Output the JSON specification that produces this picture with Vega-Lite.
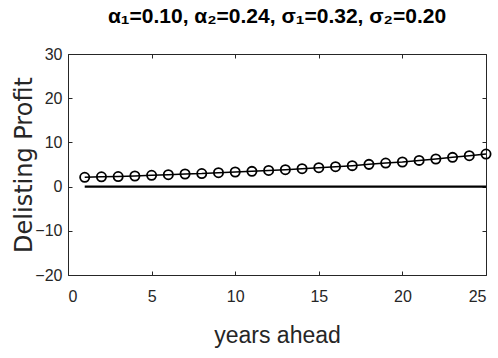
{
  "$schema": "https://vega.github.io/schema/vega-lite/v6.json",
  "width": 418,
  "height": 221,
  "autosize": {"type": "none"},
  "padding": {"left": 68, "top": 54, "right": 12, "bottom": 83},
  "background": "white",
  "title": {
    "text": "α₁=0.10, α₂=0.24, σ₁=0.32, σ₂=0.20",
    "anchor": "middle",
    "font": "Liberation Sans",
    "fontSize": 21,
    "fontWeight": "bold",
    "color": "black",
    "offset": 19
  },
  "config": {
    "view": {"stroke": "#262626", "strokeWidth": 1},
    "axis": {
      "grid": false,
      "domain": false,
      "offset": -4,
      "tickColor": "#262626",
      "tickSize": 4,
      "tickWidth": 1,
      "labelFont": "Liberation Sans",
      "labelFontSize": 16,
      "labelColor": "#262626",
      "titleFont": "Liberation Sans",
      "titleFontWeight": "normal",
      "titleColor": "#262626"
    }
  },
  "datasets": {
    "profit": [
      {"year": 1, "profit": 2.10},
      {"year": 2, "profit": 2.22},
      {"year": 3, "profit": 2.28},
      {"year": 4, "profit": 2.40},
      {"year": 5, "profit": 2.55},
      {"year": 6, "profit": 2.70},
      {"year": 7, "profit": 2.85},
      {"year": 8, "profit": 2.95},
      {"year": 9, "profit": 3.15},
      {"year": 10, "profit": 3.30},
      {"year": 11, "profit": 3.45},
      {"year": 12, "profit": 3.66},
      {"year": 13, "profit": 3.83},
      {"year": 14, "profit": 4.05},
      {"year": 15, "profit": 4.28},
      {"year": 16, "profit": 4.51},
      {"year": 17, "profit": 4.74},
      {"year": 18, "profit": 5.03},
      {"year": 19, "profit": 5.33},
      {"year": 20, "profit": 5.57},
      {"year": 21, "profit": 5.93},
      {"year": 22, "profit": 6.24},
      {"year": 23, "profit": 6.62},
      {"year": 24, "profit": 6.99},
      {"year": 25, "profit": 7.37}
    ],
    "zero": [
      {"year": 1, "profit": 0},
      {"year": 25, "profit": 0}
    ]
  },
  "resolve": {"axis": {"x": "independent", "y": "independent"}},
  "layer": [
    {
      "data": {"name": "zero"},
      "mark": {"type": "line", "color": "black", "strokeWidth": 2.2},
      "encoding": {
        "x": {
          "field": "year", "type": "quantitative",
          "scale": {"domain": [0, 25], "nice": false},
          "axis": {"orient": "bottom", "values": [0, 5, 10, 15, 20, 25], "title": "years ahead", "titleFontSize": 23, "titlePadding": 20, "labelPadding": 13}
        },
        "y": {
          "field": "profit", "type": "quantitative",
          "scale": {"domain": [-20, 30], "nice": false},
          "axis": {"orient": "left", "values": [-20, -10, 0, 10, 20, 30], "title": "Delisting Profit", "titleFont": "DejaVu Sans", "titleFontSize": 24, "titlePadding": -2, "labelPadding": 6}
        }
      }
    },
    {
      "data": {"name": "profit"},
      "mark": {"type": "line", "color": "black", "strokeWidth": 1.5},
      "encoding": {
        "x": {"field": "year", "type": "quantitative", "axis": {"orient": "top", "values": [0, 5, 10, 15, 20, 25], "labels": false, "title": null}},
        "y": {"field": "profit", "type": "quantitative", "axis": {"orient": "right", "values": [-20, -10, 0, 10, 20, 30], "labels": false, "title": null}}
      }
    },
    {
      "data": {"name": "profit"},
      "mark": {"type": "point", "shape": "circle", "filled": false, "stroke": "black", "strokeWidth": 1.8, "size": 85, "opacity": 1},
      "encoding": {
        "x": {"field": "year", "type": "quantitative", "axis": null},
        "y": {"field": "profit", "type": "quantitative", "axis": null}
      }
    }
  ]
}
